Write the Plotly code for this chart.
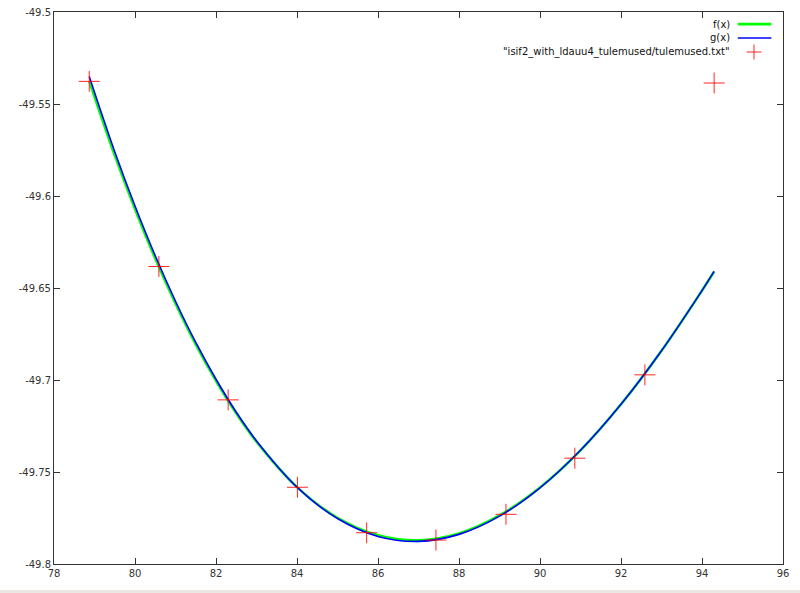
import plotly.graph_objects as go

# ---- data ----
data_x = [78.87, 80.59, 82.30, 84.01, 85.72, 87.43, 89.16, 90.86, 92.59, 94.30]
data_y = [-49.5377, -49.6383, -49.7108, -49.7583, -49.7830, -49.7870, -49.7730,
          -49.7425, -49.6972, -49.5386]

curve_x = [78.87, 79.5, 80.0, 80.5, 81.0, 81.5, 82.0, 82.5, 83.0, 84.0, 85.0,
           86.0, 87.0, 88.0, 89.0, 90.0, 91.0, 92.0, 93.0, 94.0, 94.30]
g_y = [-49.5350, -49.5759, -49.6054, -49.6325, -49.6572, -49.6796, -49.6996,
       -49.7175, -49.7331, -49.7582, -49.7753, -49.7850, -49.7877, -49.7839,
       -49.7740, -49.7586, -49.7382, -49.7132, -49.6841, -49.6514, -49.6410]
f_y = [-49.5375, -49.5779, -49.6071, -49.6340, -49.6584, -49.6806, -49.7004,
       -49.7181, -49.7335, -49.7582, -49.7749, -49.7844, -49.7871, -49.7834,
       -49.7736, -49.7584, -49.7382, -49.7132, -49.6841, -49.6514, -49.6410]

x_ticks = [78, 80, 82, 84, 86, 88, 90, 92, 94, 96]
y_ticks = [-49.8, -49.75, -49.7, -49.65, -49.6, -49.55, -49.5]
y_tick_text = ["-49.8", "-49.75", "-49.7", "-49.65", "-49.6", "-49.55", "-49.5"]
x_tick_text = [str(v) for v in x_ticks]

legend_names = ["f(x)", "g(x)", '"isif2_with_ldauu4_tulemused/tulemused.txt"']

GREEN = "#00ff00"
BLUE = "#0000ff"
RED = "rgba(255,0,0,0.85)"
FONT = "DejaVu Sans"

fig = go.Figure()
fig.add_trace(go.Scatter(x=curve_x, y=f_y, mode="lines", line=dict(color=GREEN, width=2.6, shape="spline"),
                         name=legend_names[0], showlegend=False))
fig.add_trace(go.Scatter(x=curve_x, y=g_y, mode="lines", line=dict(color=BLUE, width=1.6, shape="spline"),
                         name=legend_names[1], showlegend=False))
fig.add_trace(go.Scatter(x=data_x, y=data_y, mode="markers",
                         marker=dict(symbol="cross-thin", size=15, line=dict(color=RED, width=1)),
                         name=legend_names[2], showlegend=False))

axis_common = dict(showgrid=False, zeroline=False, showline=True, linecolor="#333333", linewidth=1,
                   ticks="inside", ticklen=6, tickcolor="#333333", mirror="allticks", automargin=False,
                   tickfont=dict(family=FONT, size=10, color="#333333"))

fig.update_xaxes(range=[78, 96], tickvals=x_ticks, ticktext=x_tick_text, **axis_common)
fig.update_yaxes(range=[-49.8, -49.5], tickvals=y_ticks, ticktext=y_tick_text, **axis_common)

# manual gnuplot-style legend (text right-aligned, sample on the right)
rows_y = [0.978, 0.953, 0.9275]
annotations = []
shapes = []
for name, ry in zip(legend_names, rows_y):
    annotations.append(dict(x=0.930, y=ry, xref="paper", yref="paper", text=name, showarrow=False,
                            xanchor="right", yanchor="middle",
                            font=dict(family=FONT, size=10, color="#111111")))
shapes.append(dict(type="line", xref="paper", yref="paper", x0=0.938, x1=0.984, y0=rows_y[0], y1=rows_y[0],
                   line=dict(color=GREEN, width=2.6)))
shapes.append(dict(type="line", xref="paper", yref="paper", x0=0.938, x1=0.984, y0=rows_y[1], y1=rows_y[1],
                   line=dict(color=BLUE, width=1.6)))
cx = (754 - 54) / 729
shapes.append(dict(type="line", xref="paper", yref="paper", x0=cx - 7.5 / 729, x1=cx + 7.5 / 729,
                   y0=rows_y[2], y1=rows_y[2], line=dict(color=RED, width=1)))
shapes.append(dict(type="line", xref="paper", yref="paper", x0=cx, x1=cx,
                   y0=rows_y[2] - 7.5 / 552, y1=rows_y[2] + 7.5 / 552, line=dict(color=RED, width=1)))
# light grey strip at the very bottom of the window
shapes.append(dict(type="rect", xref="paper", yref="paper", x0=-54 / 729, x1=(800 - 54) / 729,
                   y0=(564 - 596) / 552, y1=(564 - 590) / 552, line=dict(width=0), fillcolor="#ebe8e4"))

fig.update_layout(width=800, height=593, margin=dict(l=54, r=17, t=12, b=29),
                  plot_bgcolor="white", paper_bgcolor="white", showlegend=False,
                  annotations=annotations, shapes=shapes)

fig.write_html("out.html", config={"displayModeBar": False},
               post_script="document.body.style.margin='0';")
